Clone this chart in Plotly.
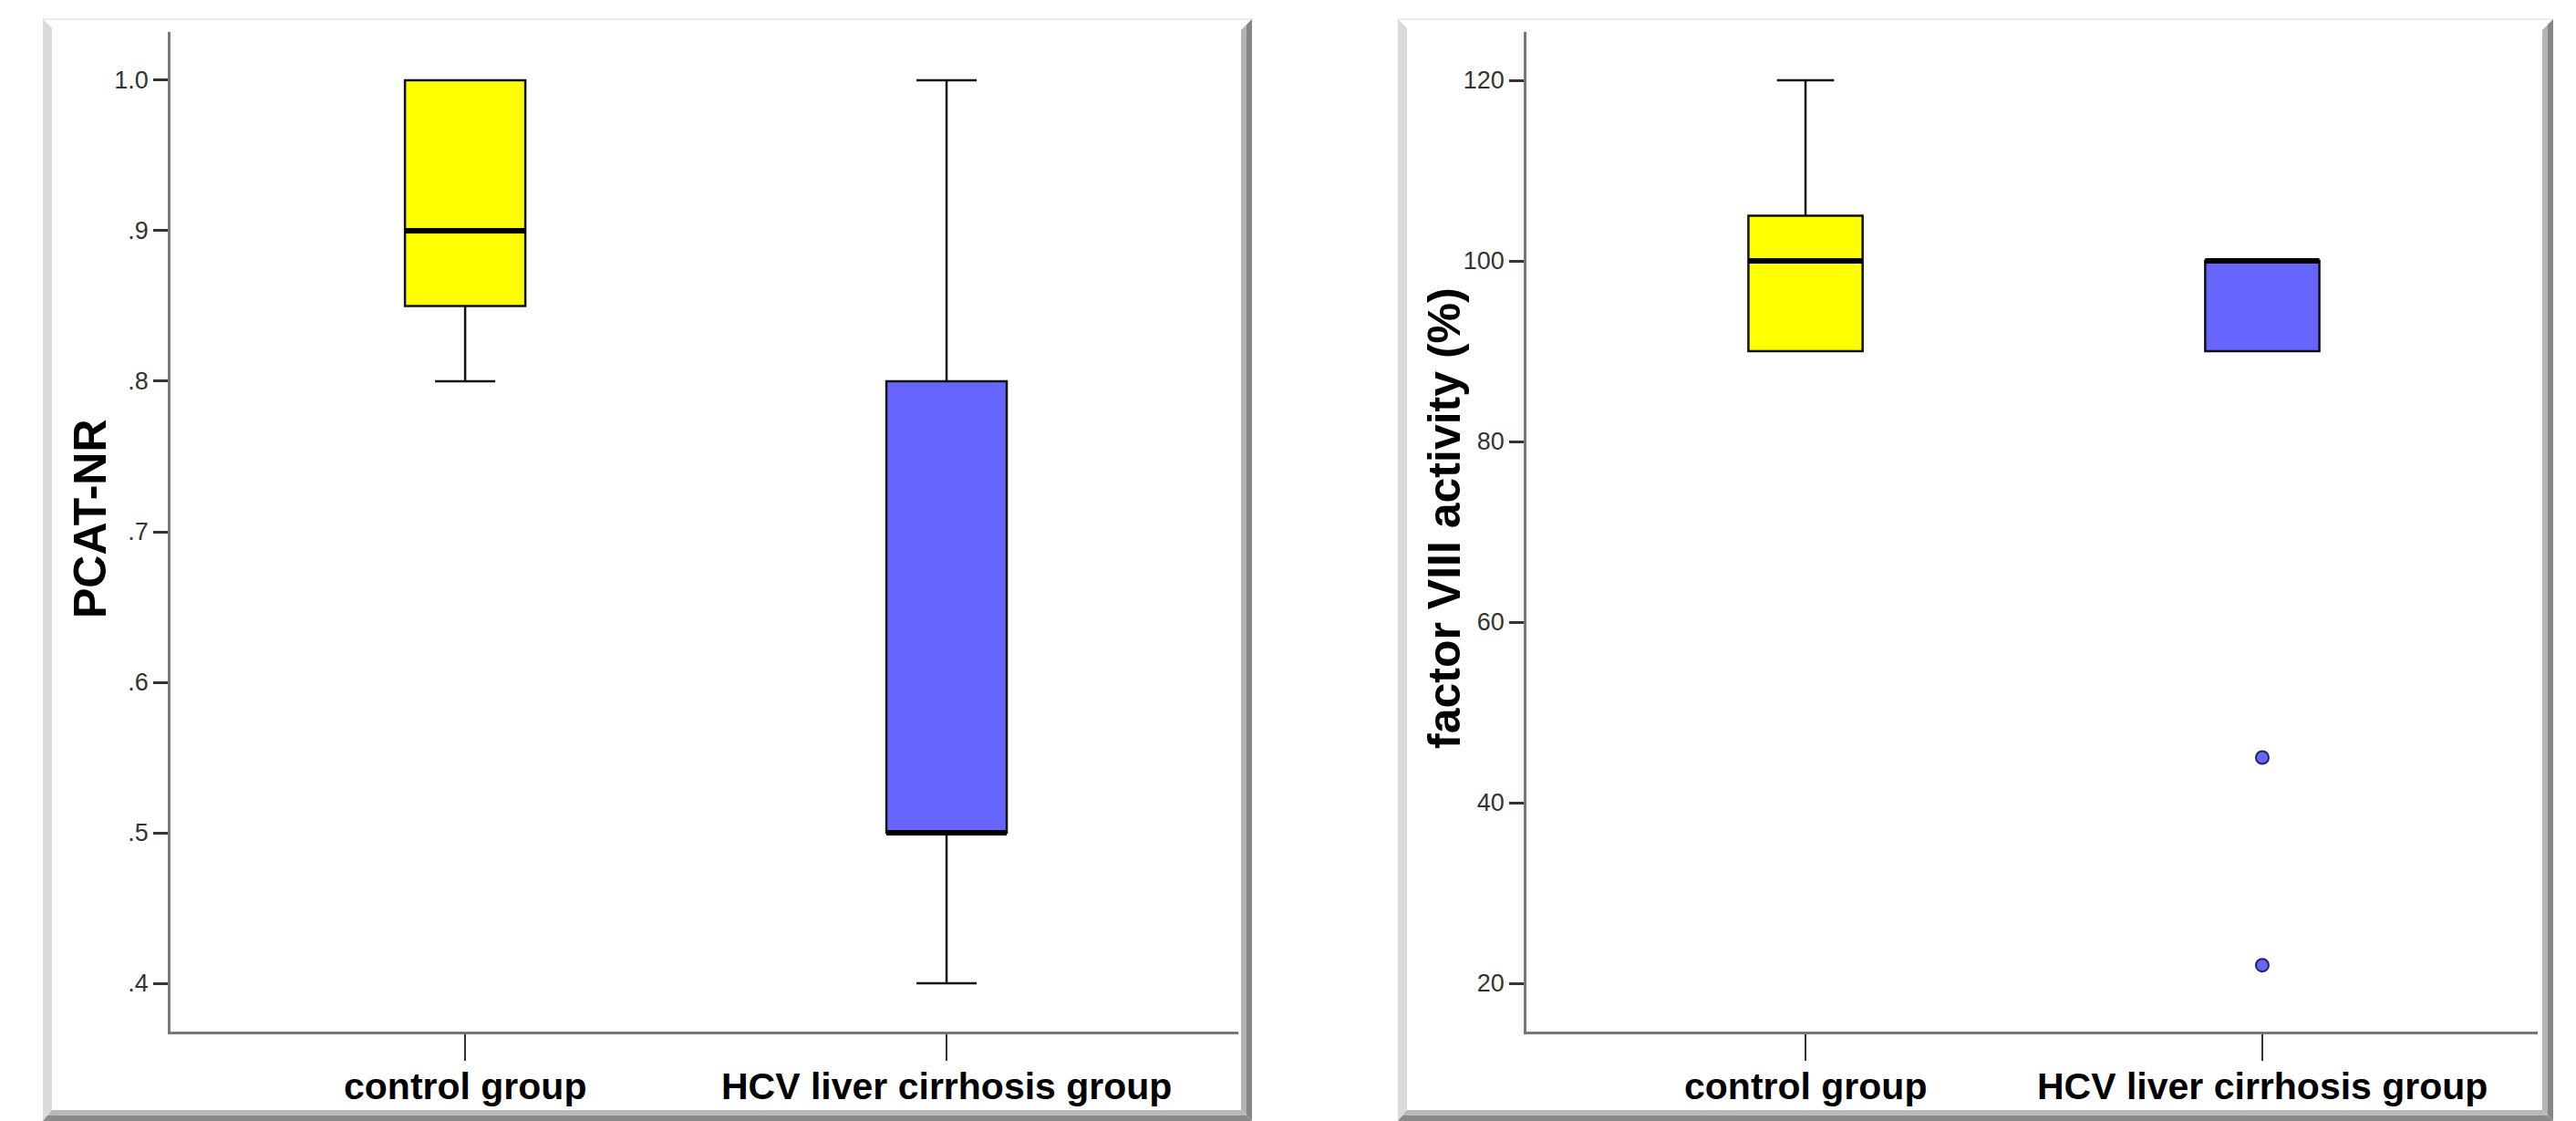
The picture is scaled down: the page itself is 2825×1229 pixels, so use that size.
import plotly.graph_objects as go

# ---------------- data ----------------
categories = ["control group", "HCV liver cirrhosis group"]

# Left panel: PCAT-NR
pcat_q1 = [0.85, 0.50]
pcat_median = [0.90, 0.50]
pcat_q3 = [1.00, 0.80]
pcat_lower = [0.80, 0.40]
pcat_upper = [1.00, 1.00]
pcat_ticks = [0.4, 0.5, 0.6, 0.7, 0.8, 0.9, 1.0]
pcat_ticktext = [".4", ".5", ".6", ".7", ".8", ".9", "1.0"]

# Right panel: factor VIII activity (%)
f8_q1 = [90, 90]
f8_median = [100, 100]
f8_q3 = [105, 100]
f8_lower = [90, 90]
f8_upper = [120, 100]
f8_outlier_group = [1, 1]
f8_outliers = [45, 22]
f8_ticks = [20, 40, 60, 80, 100, 120]

colors = ["#FFFF00", "#6666FF"]

# ---------------- layout helpers ----------------
W, H = 2825, 1229
def px(x):
    return x / W
def py(y):
    return 1 - y / H

BOX_W = 0.25
positions = [0, 1]

fig = go.Figure()

def add_panel(xa, ya, q1, med, q3, lo, up):
    for i in range(len(categories)):
        fig.add_trace(go.Box(
            x=[positions[i]], q1=[q1[i]], median=[med[i]], q3=[q3[i]],
            lowerfence=[lo[i]], upperfence=[up[i]],
            width=BOX_W, whiskerwidth=0.5,
            fillcolor=colors[i], line=dict(color="#111111", width=2.5),
            boxpoints=False, xaxis=xa, yaxis=ya, showlegend=False,
            hoverinfo="skip",
        ))
        fig.add_trace(go.Scatter(
            x=[positions[i] - BOX_W / 2, positions[i] + BOX_W / 2],
            y=[med[i], med[i]], mode="lines",
            line=dict(color="#000000", width=6),
            xaxis=xa, yaxis=ya, showlegend=False, hoverinfo="skip",
        ))

add_panel("x", "y", pcat_q1, pcat_median, pcat_q3, pcat_lower, pcat_upper)
add_panel("x2", "y2", f8_q1, f8_median, f8_q3, f8_lower, f8_upper)

fig.add_trace(go.Scatter(
    x=f8_outlier_group, y=f8_outliers, mode="markers",
    marker=dict(size=14, color="#6666FF", line=dict(color="#22225a", width=2)),
    xaxis="x2", yaxis="y2", showlegend=False, hoverinfo="skip",
))

tick_font = dict(family="Liberation Sans Narrow, Liberation Sans, Arial", size=27, color="#333333")
cat_font = dict(family="Liberation Sans, Arial", size=41, color="#000000", weight="bold")
axis_color = "#777777"

xcommon = dict(
    tickmode="array", tickvals=positions, ticktext=["", ""],
    ticks="outside", ticklen=29, tickwidth=2, tickcolor="#333333",
    showline=True, linecolor=axis_color, linewidth=2.5,
    showgrid=False, zeroline=False, fixedrange=True,
)
ycommon = dict(
    ticks="outside", ticklen=16, tickwidth=2.5, tickcolor="#333333",
    showline=True, linecolor=axis_color, linewidth=2.5,
    showgrid=False, zeroline=False, tickfont=tick_font, fixedrange=True,
)

y_dom = [py(1131), py(35)]
fig.update_layout(
    width=W, height=H, autosize=False,
    margin=dict(l=0, r=0, t=0, b=0),
    paper_bgcolor="white", plot_bgcolor="rgba(0,0,0,0)",
    xaxis=dict(domain=[px(187), px(1358)], range=[-0.612, 1.606], anchor="y", **xcommon),
    yaxis=dict(domain=y_dom, range=[0.3679, 1.0321], anchor="x",
               tickmode="array", tickvals=pcat_ticks, ticktext=pcat_ticktext, **ycommon),
    xaxis2=dict(domain=[px(1674), px(2783)], range=[-0.611, 1.603], anchor="y2", **xcommon),
    yaxis2=dict(domain=y_dom, range=[14.646, 125.354], anchor="x2",
                tickmode="array", tickvals=f8_ticks, ticktext=[str(t) for t in f8_ticks], **ycommon),
)

# category labels
for xr in ["x", "x2"]:
    for pos, cat in zip(positions, categories):
        fig.add_annotation(text=cat, x=pos, y=py(1191), xref=xr, yref="paper",
                           showarrow=False, font=cat_font,
                           xanchor="center", yanchor="middle")

title_font = dict(family="Liberation Sans, Arial", size=50, color="#000000", weight="bold")
fig.add_annotation(text="PCAT-NR", x=px(99), y=py(568), xref="paper", yref="paper",
                   textangle=-90, showarrow=False, font=title_font,
                   xanchor="center", yanchor="middle")
fig.add_annotation(text="factor VIII activity (%)", x=px(1584), y=py(568), xref="paper", yref="paper",
                   textangle=-90, showarrow=False, font=title_font,
                   xanchor="center", yanchor="middle")

# ---------------- panel frames (bevelled) ----------------
def poly(pts):
    return "M " + " L ".join(f"{px(a):.6f},{py(b):.6f}" for a, b in pts) + " Z"

shapes = []
for (L, R) in [(47, 1373), (1533, 2800)]:
    T, B = 21, 1229
    shapes.append(dict(type="line", xref="paper", yref="paper",
                       x0=px(L), y0=py(T), x1=px(R), y1=py(T),
                       line=dict(color="#e4e4e4", width=1.5)))
    shapes.append(dict(type="path", xref="paper", yref="paper",
                       path=poly([(L, T), (L + 10, T + 10), (L + 10, B - 12), (L, B)]),
                       fillcolor="#dadada", line=dict(width=0)))
    shapes.append(dict(type="path", xref="paper", yref="paper",
                       path=poly([(R - 12, T + 12), (R - 6, T + 6), (R - 6, B - 6), (R - 12, B - 12)]),
                       fillcolor="#b4b4b4", line=dict(width=0)))
    shapes.append(dict(type="path", xref="paper", yref="paper",
                       path=poly([(R - 6, T + 6), (R, T), (R, B), (R - 6, B - 6)]),
                       fillcolor="#858585", line=dict(width=0)))
    shapes.append(dict(type="path", xref="paper", yref="paper",
                       path=poly([(L + 10, B - 12), (R - 12, B - 12), (R - 6, B - 6), (L + 5, B - 6)]),
                       fillcolor="#b8b8b8", line=dict(width=0)))
    shapes.append(dict(type="path", xref="paper", yref="paper",
                       path=poly([(L + 5, B - 6), (R - 6, B - 6), (R, B), (L, B)]),
                       fillcolor="#8a8a8a", line=dict(width=0)))

fig.update_layout(shapes=shapes)

fig.write_html(
    "out.html",
    config={"displayModeBar": False},
    post_script="document.body.style.margin='0';document.body.style.overflow='hidden';",
)
